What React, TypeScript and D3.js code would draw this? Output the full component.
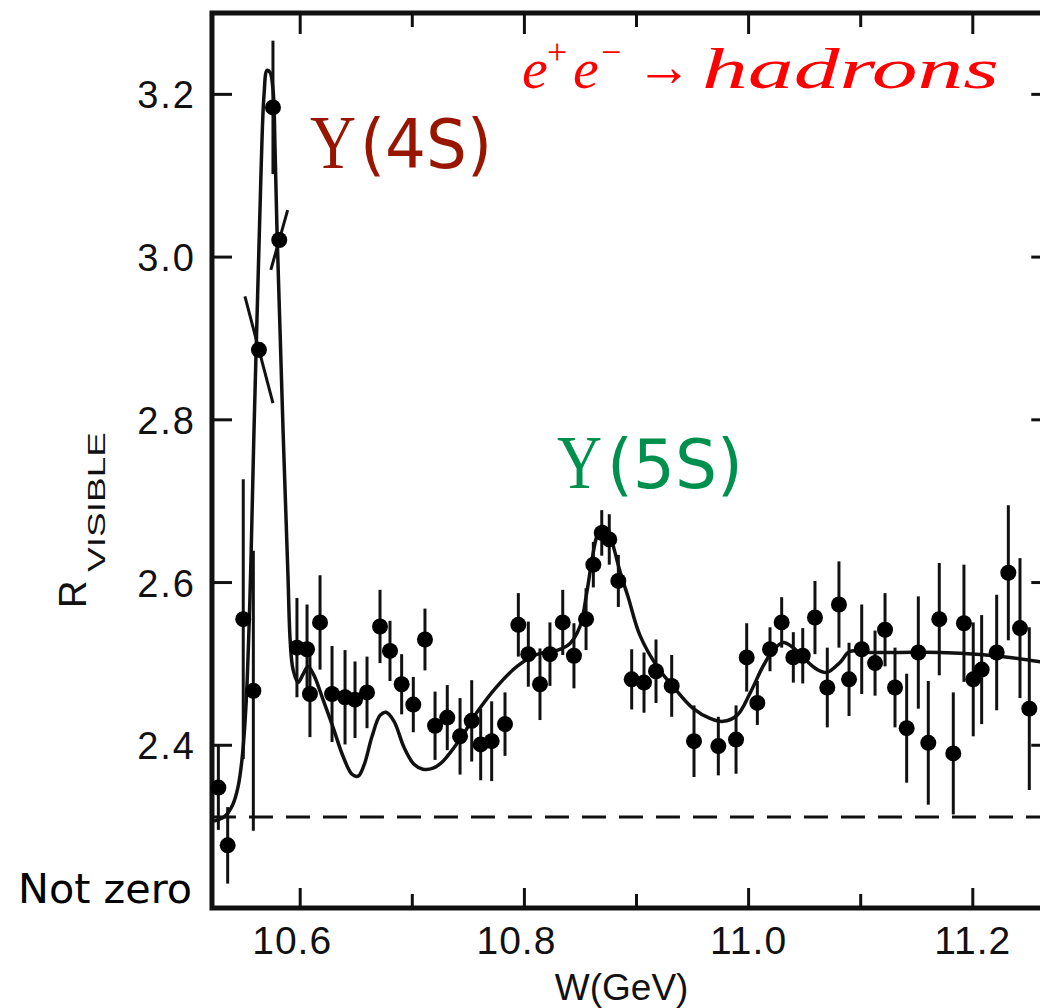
import React from "react";
import * as d3 from "d3";

// ---------- data ----------
const xTickMajor = [10.6, 10.8, 11.0, 11.2];
const xTickMinor = [10.7, 10.9, 11.1];
const xTickLabels = ["10.6", "10.8", "11.0", "11.2"];
const yTicks = [2.4, 2.6, 2.8, 3.0, 3.2];
const yTickLabels = ["2.4", "2.6", "2.8", "3.0", "3.2"];

// measured points (W in GeV, R visible, symmetric error)
const pointW = [
  10.527, 10.5353, 10.5492, 10.5582, 10.5757, 10.5971, 10.6061, 10.6087, 10.6177, 10.6284,
  10.64, 10.6489, 10.6596, 10.6712, 10.6801, 10.6905, 10.7009, 10.7113, 10.7203, 10.7312,
  10.7426, 10.753, 10.761, 10.7708, 10.7827, 10.7946, 10.8035, 10.8139, 10.8228, 10.8342,
  10.8442, 10.855, 10.8615, 10.869, 10.8757, 10.8838, 10.8957, 10.9067, 10.9174, 10.9314,
  10.9513, 10.973, 10.9888, 10.9983, 11.0078, 11.0191, 11.0295, 11.0399, 11.0483, 11.0592,
  11.0702, 11.0806, 11.0896, 11.1009, 11.1128, 11.1217, 11.1306, 11.141, 11.1514, 11.1603,
  11.1701, 11.1826, 11.1921, 11.2004, 11.2079, 11.2213, 11.2317, 11.2421, 11.2504,
];
const pointR = [
  2.348, 2.277, 2.555, 2.467, 3.184, 2.52, 2.518, 2.463, 2.551, 2.463,
  2.459, 2.456, 2.465, 2.546, 2.516, 2.475, 2.45, 2.53, 2.424, 2.434,
  2.411, 2.43, 2.401, 2.405, 2.426, 2.548, 2.512, 2.475, 2.512, 2.551,
  2.51, 2.555, 2.622, 2.661, 2.653, 2.602, 2.481, 2.477, 2.491, 2.473,
  2.405, 2.399, 2.407, 2.508, 2.452, 2.518, 2.551, 2.508, 2.51, 2.557,
  2.471, 2.573, 2.481, 2.518, 2.501, 2.542, 2.471, 2.421, 2.514, 2.403,
  2.555, 2.39, 2.55, 2.481, 2.493, 2.514, 2.612, 2.544, 2.445,
];
const pointErr = [
  0.052, 0.047, 0.172, 0.172, 0.082, 0.061, 0.055, 0.053, 0.058, 0.059,
  0.058, 0.047, 0.044, 0.045, 0.037, 0.037, 0.034, 0.038, 0.042, 0.04,
  0.047, 0.05, 0.044, 0.049, 0.039, 0.039, 0.04, 0.044, 0.039, 0.04,
  0.04, 0.038, 0.028, 0.028, 0.031, 0.032, 0.037, 0.037, 0.039, 0.038,
  0.044, 0.036, 0.042, 0.042, 0.027, 0.027, 0.031, 0.031, 0.034, 0.045,
  0.049, 0.053, 0.045, 0.055, 0.04, 0.045, 0.049, 0.067, 0.069, 0.076,
  0.069, 0.075, 0.072, 0.07, 0.067, 0.071, 0.083, 0.086, 0.1,
];

// points on the steep flank, with slanted error bars
const slantW = [10.5632, 10.5813];
const slantR = [2.886, 3.021];
const slantDW = [-0.0125, 0.0075];
const slantDR = [0.0656, 0.0368];

// fitted curve
const fitW = [
  10.5231, 10.5329, 10.54, 10.5445, 10.5481, 10.5517, 10.5543, 10.5561, 10.5588, 10.5624,
  10.5651, 10.5677, 10.5704, 10.5731, 10.5758, 10.5776, 10.5793, 10.582, 10.5847, 10.5874,
  10.5892, 10.591, 10.5936, 10.5981, 10.6025, 10.607, 10.6123, 10.6203, 10.6293, 10.6382,
  10.6462, 10.6516, 10.6569, 10.6641, 10.6712, 10.6766, 10.6837, 10.6926, 10.7015, 10.7095,
  10.7185, 10.7274, 10.7426, 10.7577, 10.7756, 10.7934, 10.8112, 10.8291, 10.8407, 10.8496,
  10.8558, 10.8603, 10.8648, 10.8692, 10.8746, 10.8799, 10.8853, 10.8924, 10.9031, 10.9183,
  10.9326, 10.9504, 10.9656, 10.9772, 10.9897, 11.0012, 11.0128, 11.0218, 11.0307, 11.0396,
  11.0485, 11.061, 11.0699, 11.0815, 11.0904, 11.1082, 11.135, 11.1707, 11.2064, 11.2332,
  11.2644,
];
const fitR = [
  2.3067, 2.3129, 2.3276, 2.3485, 2.3828, 2.4503, 2.5423, 2.6282, 2.7877, 2.9718,
  3.1067, 3.1988, 3.2294, 3.227, 3.2049, 3.1313, 3.0331, 2.9104, 2.7877, 2.6773,
  2.6037, 2.5301, 2.4933, 2.4773, 2.4871, 2.4969, 2.4859, 2.4564, 2.4221, 2.3865,
  2.3644, 2.362, 2.3755, 2.411, 2.4368, 2.4405, 2.4294, 2.3975, 2.3767, 2.3706,
  2.3718, 2.3804, 2.4074, 2.4405, 2.4724, 2.4969, 2.5117, 2.5166, 2.5252, 2.546,
  2.589, 2.6282, 2.6577, 2.6687, 2.665, 2.6417, 2.6135, 2.5828, 2.535, 2.4969,
  2.4724, 2.4454, 2.4331, 2.4294, 2.4368, 2.4638, 2.4969, 2.5166, 2.5264, 2.5202,
  2.508, 2.4933, 2.4896, 2.5018, 2.5153, 2.5141, 2.5141, 2.5141, 2.5117, 2.508,
  2.5018,
];

const baselineR = 2.3117;
const xDomain = [10.5213, 11.27];
const yDomain = [2.2, 3.3];

export default function App() {
  const x = d3.scaleLinear().domain([10.6, 11.2]).range([300.2, 972.8]);
  const y = d3.scaleLinear().domain(yDomain).range([908, 13]);
  const left = x(xDomain[0]);
  const right = x(xDomain[1]);
  const top = y(yDomain[1]);
  const bottom = y(yDomain[0]);

  const line = d3
    .line<number>()
    .x((_, i) => x(fitW[i]))
    .y((d) => y(d))
    .curve(d3.curveCatmullRom.alpha(0.5));

  const ink = "#111";
  const axisW = 5;

  return (
    <svg
      width={1040}
      height={1008}
      style={{ position: "absolute", left: 0, top: 0, background: "#fff" }}
    >
      <rect x={0} y={0} width={1040} height={1008} fill="#fff" />
      {/* frame */}
      <rect
        x={left}
        y={top}
        width={right - left}
        height={bottom - top}
        fill="none"
        stroke={ink}
        strokeWidth={axisW}
      />
      {/* bottom & top ticks */}
      {xTickMajor.map((t) => (
        <g key={"M" + t}>
          <line x1={x(t)} x2={x(t)} y1={bottom} y2={bottom - 20} stroke={ink} strokeWidth={3} />
          <line x1={x(t)} x2={x(t)} y1={top} y2={top + 21} stroke={ink} strokeWidth={3} />
        </g>
      ))}
      {xTickMinor.map((t) => (
        <g key={"m" + t}>
          <line x1={x(t)} x2={x(t)} y1={bottom} y2={bottom - 14} stroke={ink} strokeWidth={3} />
          <line x1={x(t)} x2={x(t)} y1={top} y2={top + 14} stroke={ink} strokeWidth={3} />
        </g>
      ))}
      {/* left & right ticks */}
      {yTicks.map((t) => (
        <g key={"y" + t}>
          <line x1={left} x2={left + 20} y1={y(t)} y2={y(t)} stroke={ink} strokeWidth={3} />
          <line x1={right} x2={right - 20} y1={y(t)} y2={y(t)} stroke={ink} strokeWidth={3} />
        </g>
      ))}
      {/* tick labels */}
      {yTicks.map((t, i) => (
        <text
          key={"yl" + t}
          x={left - 16}
          y={y(t) + 14}
          textAnchor="end"
          fontFamily="Liberation Sans, Arial, sans-serif"
          fontSize={38}
          letterSpacing={2}
          fill={ink}
        >
          {yTickLabels[i]}
        </text>
      ))}
      {xTickMajor.map((t, i) => (
        <text
          key={"xl" + t}
          x={x(t) + (xTickLabels[i].startsWith("10") ? -8 : 0)}
          y={bottom + 46}
          textAnchor="middle"
          fontFamily="Liberation Sans, Arial, sans-serif"
          fontSize={39}
          letterSpacing={1}
          fill={ink}
        >
          {xTickLabels[i]}
        </text>
      ))}
      {/* axis titles */}
      <text
        x={(left + right) / 2 - 10}
        y={bottom + 92}
        textAnchor="middle"
        fontFamily="Liberation Sans, Arial, sans-serif"
        fontSize={37}
        fill={ink}
      >
        W(GeV)
      </text>
      <g transform={`translate(86, 608) rotate(-90)`}>
        <text x={0} y={0} fontFamily="Liberation Sans, Arial, sans-serif" fontSize={38} fill={ink}>
          R
        </text>
        <text
          x={36}
          y={19}
          fontFamily="Liberation Sans, Arial, sans-serif"
          fontSize={24}
          textLength={140}
          lengthAdjust="spacingAndGlyphs"
          fill={ink}
        >
          VISIBLE
        </text>
      </g>

      {/* dashed baseline */}
      <line
        x1={left}
        x2={right}
        y1={y(baselineR)}
        y2={y(baselineR)}
        stroke={ink}
        strokeWidth={3}
        strokeDasharray="24 13"
      />

      {/* fitted curve */}
      <path d={line(fitR) || ""} fill="none" stroke={ink} strokeWidth={3.5} />

      {/* error bars */}
      {pointW.map((w, i) => (
        <line
          key={"e" + i}
          x1={x(w)}
          x2={x(w)}
          y1={y(pointR[i] - pointErr[i])}
          y2={y(pointR[i] + pointErr[i])}
          stroke={ink}
          strokeWidth={3}
        />
      ))}
      {slantW.map((w, i) => (
        <line
          key={"s" + i}
          x1={x(w + slantDW[i])}
          y1={y(slantR[i] + slantDR[i])}
          x2={x(w - slantDW[i])}
          y2={y(slantR[i] - slantDR[i])}
          stroke={ink}
          strokeWidth={3}
        />
      ))}
      {/* points */}
      {pointW.map((w, i) => (
        <circle key={"p" + i} cx={x(w)} cy={y(pointR[i])} r={8} fill="#000" />
      ))}
      {slantW.map((w, i) => (
        <circle key={"sp" + i} cx={x(w)} cy={y(slantR[i])} r={8} fill="#000" />
      ))}

      {/* annotations */}
      <text
        x={310}
        y={168}
        fontFamily="Liberation Serif, Times New Roman, serif"
        fontSize={76}
        textLength={46}
        lengthAdjust="spacingAndGlyphs"
        fill="#981600"
      >
        Υ
      </text>
      <text
        x={360}
        y={168}
        fontFamily="DejaVu Sans, sans-serif"
        fontSize={68}
        textLength={132}
        lengthAdjust="spacingAndGlyphs"
        fill="#981600"
      >
        (4S)
      </text>
      <text
        x={557}
        y={488}
        fontFamily="Liberation Serif, Times New Roman, serif"
        fontSize={76}
        textLength={45}
        lengthAdjust="spacingAndGlyphs"
        fill="#00904e"
      >
        Υ
      </text>
      <text
        x={607}
        y={488}
        fontFamily="DejaVu Sans, sans-serif"
        fontSize={68}
        textLength={136}
        lengthAdjust="spacingAndGlyphs"
        fill="#00904e"
      >
        (5S)
      </text>

      <g fill="#ff0000" fontFamily="Liberation Serif, Times New Roman, serif">
        <text x={522} y={88} fontStyle="italic" fontSize={58}>e</text>
        <text x={547} y={64} fontSize={36}>+</text>
        <text x={573} y={88} fontStyle="italic" fontSize={58}>e</text>
        <text x={601} y={64} fontSize={36}>−</text>
        <text x={636} y={86} fontSize={58} textLength={56} lengthAdjust="spacingAndGlyphs">→</text>
        <text x={702} y={88} fontStyle="italic" fontSize={58} textLength={297} lengthAdjust="spacingAndGlyphs">
          hadrons
        </text>
      </g>

      <text
        x={18}
        y={903}
        fontFamily="DejaVu Sans, sans-serif"
        fontSize={40}
        textLength={174}
        lengthAdjust="spacingAndGlyphs"
        fill="#000"
      >
        Not zero
      </text>
    </svg>
  );
}
